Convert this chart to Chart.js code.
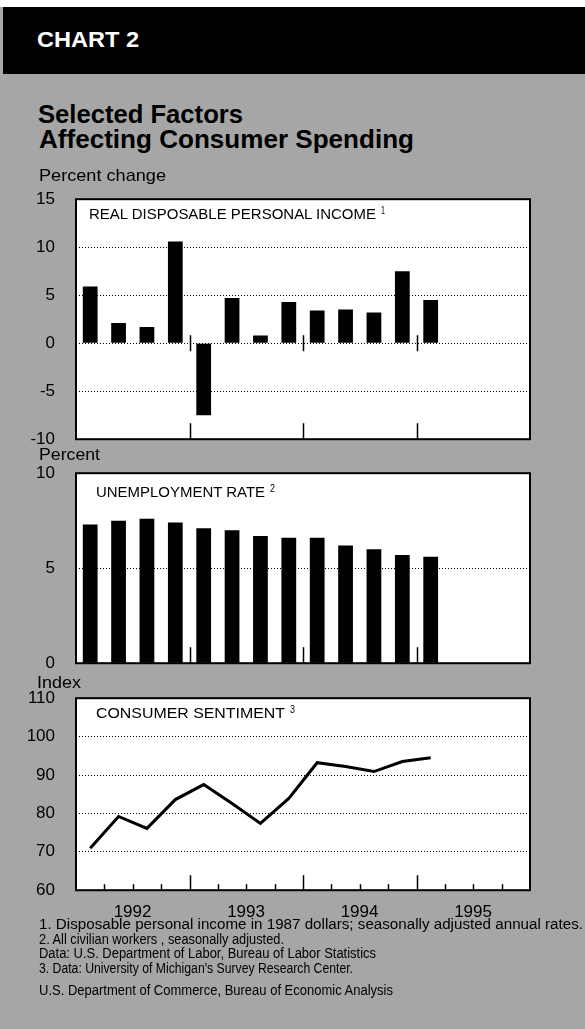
<!DOCTYPE html>
<html>
<head>
<meta charset="utf-8">
<script src="https://cdn.jsdelivr.net/npm/chart.js@4.4.0/dist/chart.umd.min.js"></script>
<style>
  html, body { margin: 0; padding: 0; }
  body {
    width: 585px; height: 1029px; position: relative; overflow: hidden;
    background: #a6a6a6;
    font-family: "Liberation Sans", Arial, Helvetica, sans-serif;
  }
  .txt { position: absolute; white-space: nowrap; line-height: 1; transform-origin: 0 0; color: #000; z-index: 2; }
  canvas { position: absolute; left: 0; z-index: 1; }
</style>
</head>
<body>
<div style="position:absolute;left:0;top:0;width:585px;height:7px;background:#fff"></div>
<div style="position:absolute;left:3px;top:7px;width:582px;height:67px;background:#000"></div>

<canvas id="income" width="585" height="280" style="top:180px"></canvas>
<canvas id="unemployment" width="585" height="230" style="top:450px"></canvas>
<canvas id="sentiment" width="585" height="250" style="top:680px"></canvas>

<script>
// quarterly data, 1992 Q1 - 1995 Q1
const years = ['1992', '1993', '1994', '1995'];
const quarterNames = ['Q1', 'Q2', 'Q3', 'Q4'];
const quarters = years.flatMap(y => quarterNames.map(q => y + ' ' + q));

const incomeChange = [5.9, 2.1, 1.7, 10.6, -7.5, 4.7, 0.8, 4.3, 3.4, 3.5, 3.2, 7.5, 4.5];
const unemploymentRate = [7.3, 7.5, 7.6, 7.4, 7.1, 7.0, 6.7, 6.6, 6.6, 6.2, 6.0, 5.7, 5.6];
const sentiment = [70.9, 79.2, 76.1, 83.6, 87.5, 82.6, 77.4, 83.9, 93.2, 92.2, 90.9, 93.5, 94.5];

const incomeTicks = [-10, -5, 0, 5, 10, 15];
const unemploymentTicks = [0, 5, 10];
const sentimentTicks = [60, 70, 80, 90, 100, 110];

// text: [string, x, baseline, size, bold, width, color]
const texts = [
  ['CHART 2', 37, 48, 22, true, 102, '#fff'],
  ['Selected Factors', 38, 123, 26, true, 205],
  ['Affecting Consumer Spending', 39, 148, 26, true, 375],
  ['Percent change', 39, 181, 17, false, 127],
  ['REAL DISPOSABLE PERSONAL INCOME', 89, 219, 15, false, 287],
  ['1', 381, 214, 10, false, 4],
  ['Percent', 39, 460, 17, false, 61],
  ['UNEMPLOYMENT RATE', 96, 497, 15, false, 169],
  ['2', 270, 492, 10, false, 5],
  ['Index', 37, 688, 17, false, 44],
  ['CONSUMER SENTIMENT', 96, 718, 15, false, 189],
  ['3', 290, 713, 10, false, 5],
  ['1. Disposable personal income in 1987 dollars; seasonally adjusted annual rates.', 39, 929, 14, false, 544],
  ['2. All civilian workers , seasonally adjusted.', 39, 944, 14, false, 245],
  ['Data: U.S. Department of Labor, Bureau of Labor Statistics', 39, 958, 14, false, 337],
  ["3. Data: University of Michigan's Survey  Research Center.", 39, 973, 14, false, 314],
  ['U.S. Department of Commerce, Bureau of Economic Analysis', 39, 995, 14, false, 354]
];

texts.forEach(t => {
  const el = document.createElement('div');
  el.className = 'txt';
  el.textContent = t[0];
  el.style.left = t[1] + 'px';
  el.style.top = (t[2] - 0.85 * t[3]) + 'px';
  el.style.fontSize = t[3] + 'px';
  if (t[4]) el.style.fontWeight = 'bold';
  if (t[6]) el.style.color = t[6];
  el.dataset.w = t[5];
  document.body.appendChild(el);
});

function fit() {
  document.querySelectorAll('.txt').forEach(el => {
    el.style.transform = 'none';
    const w = el.getBoundingClientRect().width;
    el.style.transform = 'scaleX(' + (el.dataset.w / w) + ')';
  });
}
fit();
document.fonts.ready.then(fit);

Chart.defaults.font.family = '"Liberation Sans", Arial, Helvetica, sans-serif';
Chart.defaults.color = '#000';

// white plot area, black frame, tick marks inside the frame
const frame = {
  id: 'frame',
  beforeDraw(chart) {
    const { ctx, chartArea: a } = chart;
    ctx.save();
    ctx.fillStyle = '#fff';
    ctx.fillRect(a.left, a.top, a.width, a.height);
    ctx.restore();
  },
  afterDraw(chart, args, o) {
    const { ctx, chartArea: a, scales: { x, y } } = chart;
    ctx.save();
    ctx.strokeStyle = '#000';
    ctx.lineWidth = 1.5;
    const step = x.getPixelForValue(1) - x.getPixelForValue(0);
    for (let i = 1; i < quarters.length; i++) {
      const px = Math.round(x.getPixelForValue(i) - step / 2) + 0.5;
      const isYear = i % 4 === 0;
      const len = isYear ? o.year : o.quarter;
      ctx.beginPath();
      if (len) {
        ctx.moveTo(px, a.bottom);
        ctx.lineTo(px, a.bottom - len);
      }
      if (isYear && o.zero) {
        const z = y.getPixelForValue(0);
        ctx.moveTo(px, z - 8);
        ctx.lineTo(px, z + 8);
      }
      ctx.stroke();
    }
    ctx.lineWidth = 2;
    ctx.strokeRect(a.left, a.top, a.width, a.height);
    ctx.restore();
  }
};

function panel(id, type, values, ticks, frameOpts, xOpts, boxTop, boxBottom) {
  const chart = new Chart(document.getElementById(id), {
    type: type,
    data: {
      labels: quarters,
      datasets: [{
        data: values,
        backgroundColor: '#000',
        borderColor: '#000',
        borderWidth: type === 'line' ? 3 : 0,
        pointRadius: 0,
        fill: false,
        tension: 0,
        barPercentage: 0.52,
        categoryPercentage: 1
      }]
    },
    options: {
      responsive: false,
      maintainAspectRatio: false,
      animation: false,
      layout: { padding: { left: 0, right: 55, top: 4, bottom: 4 } },
      plugins: { legend: { display: false }, tooltip: { enabled: false }, frame: frameOpts },
      scales: {
        x: xOpts,
        y: {
          min: ticks[0],
          max: ticks[ticks.length - 1],
          afterBuildTicks: s => { s.ticks = ticks.map(v => ({ value: v })); },
          afterFit: s => { s.width = 76; },
          grid: { color: '#000', lineWidth: 1, drawTicks: false },
          border: { display: false, dash: [1, 2] },
          ticks: { padding: 21, font: { size: 17 } }
        }
      }
    },
    plugins: [frame]
  });
  // size the canvas so the plot frame lands on boxTop..boxBottom
  const a = chart.chartArea;
  const topOff = a.top;
  const botOff = chart.height - a.bottom;
  chart.resize(585, topOff + (boxBottom - boxTop) + botOff);
  chart.canvas.style.top = (boxTop - chart.chartArea.top) + 'px';
  return chart;
}

const hiddenX = { display: false, offset: true };

panel('income', 'bar', incomeChange, incomeTicks, { year: 16, quarter: 0, zero: true }, hiddenX, 199, 439);
panel('unemployment', 'bar', unemploymentRate, unemploymentTicks, { year: 16, quarter: 0, zero: false }, hiddenX, 473, 663);
panel('sentiment', 'line', sentiment, sentimentTicks, { year: 15, quarter: 6, zero: false }, {
  offset: true,
  afterFit: s => { s.height = 32; },
  grid: { display: false, drawTicks: false },
  border: { display: false },
  ticks: {
    autoSkip: false,
    maxRotation: 0,
    labelOffset: 14,
    padding: 12,
    font: { size: 17 },
    callback: (v, i) => i % 4 === 1 ? years[i >> 2] : ''
  }
}, 698, 890);
</script>
</body>
</html>
